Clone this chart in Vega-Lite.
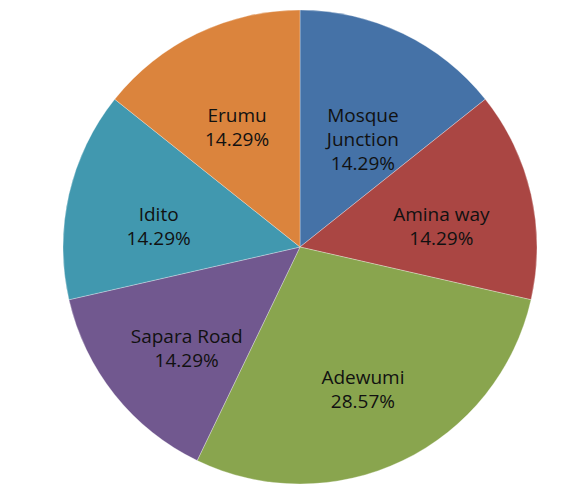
{
  "$schema": "https://vega.github.io/schema/vega-lite/v6.json",
  "width": 564,
  "height": 474,
  "autosize": "none",
  "padding": {"left": 18, "top": 10, "right": 0, "bottom": 0},
  "background": "white",
  "view": {"stroke": null},
  "data": {
    "values": [
      {"idx": 1, "name": "Mosque Junction", "value": 1, "label": "Mosque\nJunction\n14.29%"},
      {"idx": 2, "name": "Amina way", "value": 1, "label": "Amina way\n14.29%"},
      {"idx": 3, "name": "Adewumi", "value": 2, "label": "Adewumi\n28.57%"},
      {"idx": 4, "name": "Sapara Road", "value": 1, "label": "Sapara Road\n14.29%"},
      {"idx": 5, "name": "Idito", "value": 1, "label": "Idito\n14.29%"},
      {"idx": 6, "name": "Erumu", "value": 1, "label": "Erumu\n14.29%"}
    ]
  },
  "encoding": {
    "theta": {"field": "value", "type": "quantitative", "stack": true},
    "order": {"field": "idx", "type": "quantitative"},
    "color": {
      "field": "name",
      "type": "nominal",
      "scale": {
        "domain": ["Mosque Junction", "Amina way", "Adewumi", "Sapara Road", "Idito", "Erumu"],
        "range": ["#4572A7", "#AA4643", "#89A54E", "#71588F", "#4198AF", "#DB843D"]
      },
      "legend": null
    }
  },
  "layer": [
    {
      "mark": {"type": "arc", "outerRadius": 237, "stroke": "#ffffff", "strokeWidth": 0.6, "strokeOpacity": 0.5}
    },
    {
      "mark": {
        "type": "text",
        "radius": 145,
        "lineBreak": "\n",
        "font": "Open Sans",
        "fontSize": 19,
        "lineHeight": 24,
        "baseline": "middle",
        "align": "center"
      },
      "encoding": {
        "text": {"field": "label", "type": "nominal"},
        "color": {"value": "#111111"}
      }
    }
  ]
}
